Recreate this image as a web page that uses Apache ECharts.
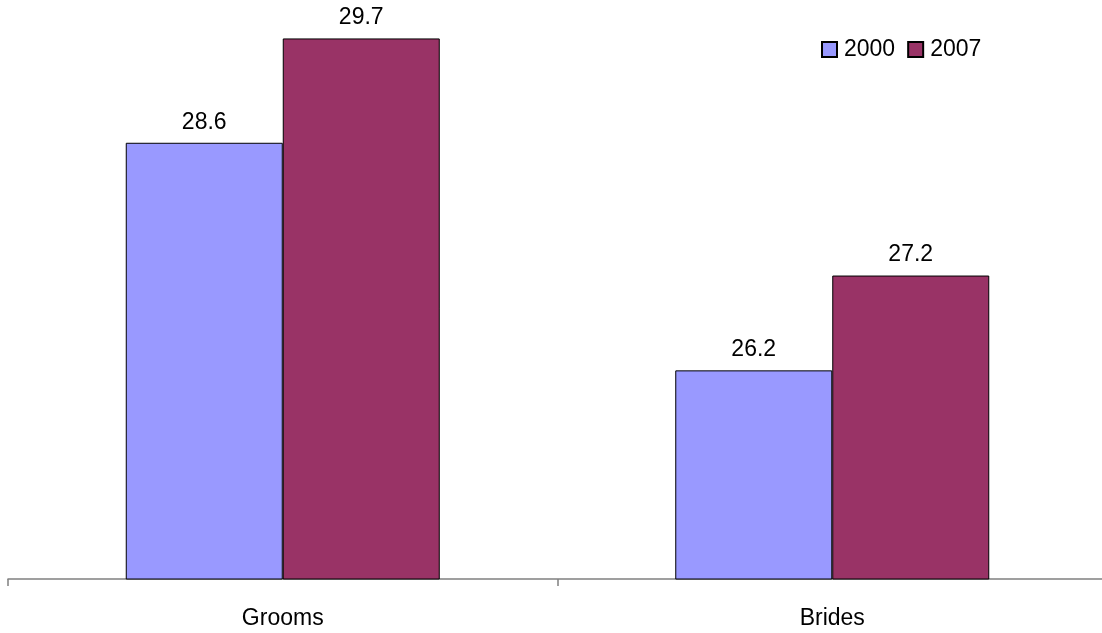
<!DOCTYPE html>
<html>
<head>
<meta charset="utf-8">
<script src="https://cdn.jsdelivr.net/npm/echarts@6/dist/echarts.min.js"></script>
<style>html,body{margin:0;padding:0;background:#fff;overflow:hidden;width:1102px;height:633px}#c{width:1108px;height:633px}</style>
</head>
<body>
<div id="c"></div>
<script>
const categories = ['Grooms', 'Brides'];
const seriesNames = ['2000', '2007'];
const values2000 = [28.6, 26.2];
const values2007 = [29.7, 27.2];

const chart = echarts.init(document.getElementById('c'));
const font = 'Liberation Sans, Arial, sans-serif';
const labelCfg = { show: true, position: 'top', distance: 9, color: '#000', fontSize: 23, fontFamily: font, formatter: p => p.value.toFixed(1) };
chart.setOption({
  animation: false,
  legend: {
    left: 821, top: 38, padding: 0, itemWidth: 15, itemHeight: 15, itemGap: 12,
    icon: 'rect',
    textStyle: { fontSize: 23, fontFamily: font, color: '#000', padding: [0, 0, 0, 2] },
    data: seriesNames
  },
  grid: { left: 8, right: 1, top: 10, bottom: 54, containLabel: false },
  xAxis: {
    type: 'category', data: categories,
    axisLine: { lineStyle: { color: '#808080', width: 1.5 } },
    axisTick: { show: true, length: 7, lineStyle: { color: '#808080', width: 1.5 } },
    axisLabel: { fontSize: 23, fontFamily: font, color: '#000', margin: 28 }
  },
  yAxis: { type: 'value', min: 24, max: 30, show: false, splitLine: { show: false } },
  series: [
    { name: seriesNames[0], type: 'bar', data: values2000, barWidth: 157, barGap: '0%',
      itemStyle: { color: '#9999FF', borderColor: '#000', borderWidth: 1 }, label: labelCfg },
    { name: seriesNames[1], type: 'bar', data: values2007, barWidth: 157,
      itemStyle: { color: '#993366', borderColor: '#000', borderWidth: 1 }, label: labelCfg }
  ]
});
</script>
</body>
</html>
